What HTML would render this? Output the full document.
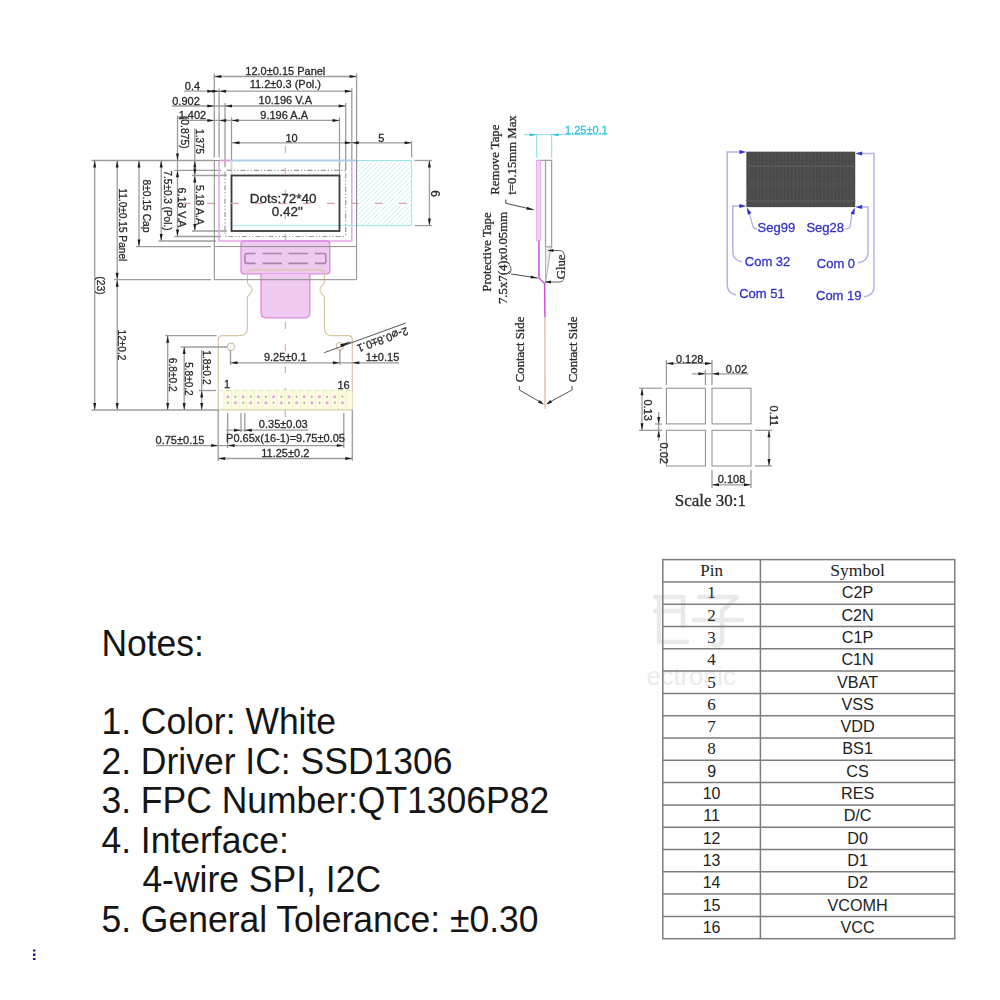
<!DOCTYPE html>
<html><head><meta charset="utf-8">
<style>
html,body{margin:0;padding:0;background:#fff;width:1000px;height:1000px;overflow:hidden}
svg{position:absolute;left:0;top:0}
.ss{font-family:"Liberation Sans",sans-serif;fill:#222}
.sf{font-family:"Liberation Serif",serif;fill:#222}
</style></head><body>
<svg width="1000" height="1000" viewBox="0 0 1000 1000">
<g class="ss" font-size="35.5" style="fill:#151515">
<text x="101.4" y="655.8" transform="matrix(1 0 0 1.045 0 -29.51)">Notes:</text>
<text x="101.4" y="734.3" transform="matrix(1 0 0 1.045 0 -33.04)">1. Color: White</text>
<text x="101.4" y="773.8" transform="matrix(1 0 0 1.045 0 -34.82)">2. Driver IC: SSD1306</text>
<text x="101.4" y="813.3" transform="matrix(1 0 0 1.045 0 -36.60)">3. FPC Number:QT1306P82</text>
<text x="101.4" y="852.8" transform="matrix(1 0 0 1.045 0 -38.38)">4. Interface:</text>
<text x="142.4" y="892.3" transform="matrix(1 0 0 1.045 0 -40.15)">4-wire SPI, I2C</text>
<text x="101.4" y="931.8" transform="matrix(1 0 0 1.045 0 -41.93)">5. General Tolerance: ±0.30</text>
</g>
<g fill="none" stroke="#e9e9e9" stroke-width="4.5" stroke-linecap="round" stroke-linejoin="round"><path d="M655,597 L682,597 M655,611 L682,611 M659,597 L659,642 L687,642 M683,597 L683,626"/><path d="M699,597 L737,597 L722,611 L722,640 Q722,647 713,645 M694,620 L742,620"/></g>
<text x="646.5" y="685" class="ss" font-size="25.5" style="fill:#ebebeb">ectronic</text>
<rect x="662.8" y="559.6" width="292.0" height="379.1" fill="none" stroke="#7c7c7c" stroke-width="1.5"/>
<line x1="760.4" y1="559.6" x2="760.4" y2="938.7" stroke="#7c7c7c" stroke-width="1.5"/>
<line x1="662.8" y1="581.9" x2="954.8" y2="581.9" stroke="#7c7c7c" stroke-width="1.5"/>
<line x1="662.8" y1="604.2" x2="954.8" y2="604.2" stroke="#7c7c7c" stroke-width="1.5"/>
<line x1="662.8" y1="626.5" x2="954.8" y2="626.5" stroke="#7c7c7c" stroke-width="1.5"/>
<line x1="662.8" y1="648.8" x2="954.8" y2="648.8" stroke="#7c7c7c" stroke-width="1.5"/>
<line x1="662.8" y1="671.1" x2="954.8" y2="671.1" stroke="#7c7c7c" stroke-width="1.5"/>
<line x1="662.8" y1="693.4" x2="954.8" y2="693.4" stroke="#7c7c7c" stroke-width="1.5"/>
<line x1="662.8" y1="715.7" x2="954.8" y2="715.7" stroke="#7c7c7c" stroke-width="1.5"/>
<line x1="662.8" y1="738.0" x2="954.8" y2="738.0" stroke="#7c7c7c" stroke-width="1.5"/>
<line x1="662.8" y1="760.3" x2="954.8" y2="760.3" stroke="#7c7c7c" stroke-width="1.5"/>
<line x1="662.8" y1="782.6" x2="954.8" y2="782.6" stroke="#7c7c7c" stroke-width="1.5"/>
<line x1="662.8" y1="804.9" x2="954.8" y2="804.9" stroke="#7c7c7c" stroke-width="1.5"/>
<line x1="662.8" y1="827.2" x2="954.8" y2="827.2" stroke="#7c7c7c" stroke-width="1.5"/>
<line x1="662.8" y1="849.5" x2="954.8" y2="849.5" stroke="#7c7c7c" stroke-width="1.5"/>
<line x1="662.8" y1="871.8" x2="954.8" y2="871.8" stroke="#7c7c7c" stroke-width="1.5"/>
<line x1="662.8" y1="894.1" x2="954.8" y2="894.1" stroke="#7c7c7c" stroke-width="1.5"/>
<line x1="662.8" y1="916.4" x2="954.8" y2="916.4" stroke="#7c7c7c" stroke-width="1.5"/>
<text x="711.6" y="576.2" class="sf" font-size="17" text-anchor="middle">Pin</text>
<text x="857.6" y="576.2" class="sf" font-size="17.6" text-anchor="middle">Symbol</text>
<text x="711.6" y="598.3" class="sf" font-size="17" text-anchor="middle">1</text>
<text x="857.6" y="598.3" class="ss" font-size="16.2" text-anchor="middle">C2P</text>
<text x="711.6" y="620.6" class="sf" font-size="17" text-anchor="middle">2</text>
<text x="857.6" y="620.6" class="ss" font-size="16.2" text-anchor="middle">C2N</text>
<text x="711.6" y="642.9" class="sf" font-size="17" text-anchor="middle">3</text>
<text x="857.6" y="642.9" class="ss" font-size="16.2" text-anchor="middle">C1P</text>
<text x="711.6" y="665.2" class="sf" font-size="17" text-anchor="middle">4</text>
<text x="857.6" y="665.2" class="ss" font-size="16.2" text-anchor="middle">C1N</text>
<text x="711.6" y="687.5" class="sf" font-size="17" text-anchor="middle">5</text>
<text x="857.6" y="687.5" class="ss" font-size="16.2" text-anchor="middle">VBAT</text>
<text x="711.6" y="709.8" class="sf" font-size="17" text-anchor="middle">6</text>
<text x="857.6" y="709.8" class="ss" font-size="16.2" text-anchor="middle">VSS</text>
<text x="711.6" y="732.1" class="sf" font-size="17" text-anchor="middle">7</text>
<text x="857.6" y="732.1" class="ss" font-size="16.2" text-anchor="middle">VDD</text>
<text x="711.6" y="754.4" class="sf" font-size="17" text-anchor="middle">8</text>
<text x="857.6" y="754.4" class="ss" font-size="16.2" text-anchor="middle">BS1</text>
<text x="711.6" y="776.7" class="ss" font-size="16" text-anchor="middle">9</text>
<text x="857.6" y="776.7" class="ss" font-size="16.2" text-anchor="middle">CS</text>
<text x="711.6" y="799.0" class="ss" font-size="16" text-anchor="middle">10</text>
<text x="857.6" y="799.0" class="ss" font-size="16.2" text-anchor="middle">RES</text>
<text x="711.6" y="821.3" class="ss" font-size="16" text-anchor="middle">11</text>
<text x="857.6" y="821.3" class="ss" font-size="16.2" text-anchor="middle">D/C</text>
<text x="711.6" y="843.6" class="ss" font-size="16" text-anchor="middle">12</text>
<text x="857.6" y="843.6" class="ss" font-size="16.2" text-anchor="middle">D0</text>
<text x="711.6" y="865.9" class="ss" font-size="16" text-anchor="middle">13</text>
<text x="857.6" y="865.9" class="ss" font-size="16.2" text-anchor="middle">D1</text>
<text x="711.6" y="888.2" class="ss" font-size="16" text-anchor="middle">14</text>
<text x="857.6" y="888.2" class="ss" font-size="16.2" text-anchor="middle">D2</text>
<text x="711.6" y="910.5" class="ss" font-size="16" text-anchor="middle">15</text>
<text x="857.6" y="910.5" class="ss" font-size="16.2" text-anchor="middle">VCOMH</text>
<text x="711.6" y="932.8" class="ss" font-size="16" text-anchor="middle">16</text>
<text x="857.6" y="932.8" class="ss" font-size="16.2" text-anchor="middle">VCC</text>
<defs><filter id="bl" x="-5%" y="-5%" width="110%" height="110%"><feGaussianBlur stdDeviation="0.35"/></filter></defs>
<g filter="url(#bl)">
<line x1="214.3" y1="73.5" x2="214.3" y2="157.5" stroke="#9c9c9c" stroke-width="1.3" />
<line x1="356.6" y1="73.5" x2="356.6" y2="160.5" stroke="#9c9c9c" stroke-width="1.3" />
<line x1="214.3" y1="76.5" x2="356.6" y2="76.5" stroke="#9c9c9c" stroke-width="1.3" />
<path d="M214.3,76.5 L221.3,75.0 L221.3,78.0Z" fill="#1e1e1e"/>
<path d="M356.6,76.5 L349.6,78.0 L349.6,75.0Z" fill="#1e1e1e"/>
<text x="285.3" y="75.0" class="ss" font-size="11" style="fill:#2a2a2a;stroke:#2a2a2a;stroke-width:0.3" text-anchor="middle" >12.0±0.15 Panel</text>
<line x1="219.1" y1="88.5" x2="219.1" y2="157.5" stroke="#9c9c9c" stroke-width="1.3" />
<line x1="351.8" y1="88.5" x2="351.8" y2="160.5" stroke="#9c9c9c" stroke-width="1.3" />
<line x1="184.0" y1="91.2" x2="351.8" y2="91.2" stroke="#9c9c9c" stroke-width="1.3" />
<path d="M219.1,91.2 L226.1,89.7 L226.1,92.7Z" fill="#1e1e1e"/>
<path d="M219.1,91.2 L212.1,92.7 L212.1,89.7Z" fill="#1e1e1e"/>
<path d="M351.8,91.2 L344.8,92.7 L344.8,89.7Z" fill="#1e1e1e"/>
<path d="M214.3,91.2 L207.3,92.7 L207.3,89.7Z" fill="#1e1e1e"/>
<text x="285.3" y="88.3" class="ss" font-size="11" style="fill:#2a2a2a;stroke:#2a2a2a;stroke-width:0.3" text-anchor="middle" >11.2±0.3 (Pol.)</text>
<text x="192.5" y="90.0" class="ss" font-size="11" style="fill:#2a2a2a;stroke:#2a2a2a;stroke-width:0.3" text-anchor="middle" >0.4</text>
<line x1="225.0" y1="103.0" x2="225.0" y2="167.3" stroke="#9c9c9c" stroke-width="1.3" />
<line x1="345.7" y1="103.0" x2="345.7" y2="170.3" stroke="#9c9c9c" stroke-width="1.3" />
<line x1="172.0" y1="106.0" x2="345.7" y2="106.0" stroke="#9c9c9c" stroke-width="1.3" />
<path d="M214.3,106.0 L207.3,107.5 L207.3,104.5Z" fill="#1e1e1e"/>
<path d="M225.0,106.0 L232.0,104.5 L232.0,107.5Z" fill="#1e1e1e"/>
<path d="M345.7,106.0 L338.7,107.5 L338.7,104.5Z" fill="#1e1e1e"/>
<text x="285.3" y="104.3" class="ss" font-size="11" style="fill:#2a2a2a;stroke:#2a2a2a;stroke-width:0.3" text-anchor="middle" >10.196 V.A</text>
<text x="186.0" y="105.0" class="ss" font-size="11" style="fill:#2a2a2a;stroke:#2a2a2a;stroke-width:0.3" text-anchor="middle" >0.902</text>
<line x1="231.5" y1="117.5" x2="231.5" y2="175.5" stroke="#9c9c9c" stroke-width="1.3" />
<line x1="339.5" y1="117.5" x2="339.5" y2="175.5" stroke="#9c9c9c" stroke-width="1.3" />
<line x1="188.0" y1="120.4" x2="339.5" y2="120.4" stroke="#9c9c9c" stroke-width="1.3" />
<path d="M214.3,120.4 L207.3,121.9 L207.3,118.9Z" fill="#1e1e1e"/>
<path d="M219.1,120.4 L226.1,118.9 L226.1,121.9Z" fill="#1e1e1e"/>
<path d="M231.5,120.4 L238.5,118.9 L238.5,121.9Z" fill="#1e1e1e"/>
<path d="M339.5,120.4 L332.5,121.9 L332.5,118.9Z" fill="#1e1e1e"/>
<text x="284.2" y="119.2" class="ss" font-size="11" style="fill:#2a2a2a;stroke:#2a2a2a;stroke-width:0.3" text-anchor="middle" >9.196 A.A</text>
<text x="192.4" y="119.3" class="ss" font-size="11" style="fill:#2a2a2a;stroke:#2a2a2a;stroke-width:0.3" text-anchor="middle" >1.402</text>
<line x1="231.5" y1="142.8" x2="411.6" y2="142.8" stroke="#9c9c9c" stroke-width="1.3" />
<path d="M232.5,142.8 L239.5,141.3 L239.5,144.3Z" fill="#1e1e1e"/>
<path d="M351.8,142.8 L344.8,144.3 L344.8,141.3Z" fill="#1e1e1e"/>
<path d="M351.8,142.8 L358.8,141.3 L358.8,144.3Z" fill="#1e1e1e"/>
<path d="M411.6,142.8 L404.6,144.3 L404.6,141.3Z" fill="#1e1e1e"/>
<text x="291.5" y="141.5" class="ss" font-size="11" style="fill:#2a2a2a;stroke:#2a2a2a;stroke-width:0.3" text-anchor="middle" >10</text>
<text x="381.3" y="141.5" class="ss" font-size="11" style="fill:#2a2a2a;stroke:#2a2a2a;stroke-width:0.3" text-anchor="middle" >5</text>
<line x1="411.6" y1="141.0" x2="411.6" y2="157.5" stroke="#9c9c9c" stroke-width="1.3" />
<line x1="91.5" y1="160.5" x2="214.3" y2="160.5" stroke="#9c9c9c" stroke-width="1.3" />
<line x1="94.7" y1="160.5" x2="94.7" y2="410.0" stroke="#9c9c9c" stroke-width="1.3" />
<path d="M94.7,160.5 L96.2,167.5 L93.2,167.5Z" fill="#1e1e1e"/>
<path d="M94.7,410.0 L93.2,403.0 L96.2,403.0Z" fill="#1e1e1e"/>
<text x="97.2" y="276.3" class="ss" font-size="11.5" style="fill:#2a2a2a;stroke:#2a2a2a;stroke-width:0.3" text-anchor="start" transform="rotate(90 97.2 276.3)"  textLength="18.5" lengthAdjust="spacingAndGlyphs">(23)</text>
<line x1="117.2" y1="160.5" x2="117.2" y2="410.0" stroke="#9c9c9c" stroke-width="1.3" />
<path d="M117.2,160.5 L118.7,167.5 L115.7,167.5Z" fill="#1e1e1e"/>
<path d="M117.2,279.7 L115.7,272.7 L118.7,272.7Z" fill="#1e1e1e"/>
<path d="M117.2,279.7 L118.7,286.7 L115.7,286.7Z" fill="#1e1e1e"/>
<path d="M117.2,410.0 L115.7,403.0 L118.7,403.0Z" fill="#1e1e1e"/>
<text x="119.0" y="188.3" class="ss" font-size="11.5" style="fill:#2a2a2a;stroke:#2a2a2a;stroke-width:0.3" text-anchor="start" transform="rotate(90 119.0 188.3)"  textLength="73" lengthAdjust="spacingAndGlyphs">11.0±0.15 Panel</text>
<text x="118.3" y="329.5" class="ss" font-size="11.5" style="fill:#2a2a2a;stroke:#2a2a2a;stroke-width:0.3" text-anchor="start" transform="rotate(90 118.3 329.5)"  textLength="31" lengthAdjust="spacingAndGlyphs">12±0.2</text>
<line x1="114.0" y1="279.7" x2="211.0" y2="279.7" stroke="#9c9c9c" stroke-width="1.3" />
<line x1="139.0" y1="160.5" x2="139.0" y2="246.6" stroke="#9c9c9c" stroke-width="1.3" />
<path d="M139.0,160.5 L140.5,167.5 L137.5,167.5Z" fill="#1e1e1e"/>
<path d="M139.0,246.6 L137.5,239.6 L140.5,239.6Z" fill="#1e1e1e"/>
<line x1="136.0" y1="246.6" x2="211.0" y2="246.6" stroke="#9c9c9c" stroke-width="1.3" />
<text x="143.0" y="179.5" class="ss" font-size="11.5" style="fill:#2a2a2a;stroke:#2a2a2a;stroke-width:0.3" text-anchor="start" transform="rotate(90 143.0 179.5)"  textLength="53" lengthAdjust="spacingAndGlyphs">8±0.15 Cap</text>
<line x1="161.2" y1="160.5" x2="161.2" y2="241.0" stroke="#9c9c9c" stroke-width="1.3" />
<path d="M161.2,160.5 L162.7,167.5 L159.7,167.5Z" fill="#1e1e1e"/>
<path d="M161.2,241.0 L159.7,234.0 L162.7,234.0Z" fill="#1e1e1e"/>
<line x1="158.5" y1="241.0" x2="216.0" y2="241.0" stroke="#9c9c9c" stroke-width="1.3" />
<text x="164.0" y="170.5" class="ss" font-size="11.5" style="fill:#2a2a2a;stroke:#2a2a2a;stroke-width:0.3" text-anchor="start" transform="rotate(90 164.0 170.5)"  textLength="60" lengthAdjust="spacingAndGlyphs">7.5±0.3 (Pol.)</text>
<line x1="177.5" y1="115.6" x2="177.5" y2="236.5" stroke="#9c9c9c" stroke-width="1.3" />
<line x1="177.0" y1="117.0" x2="186.0" y2="117.0" stroke="#9c9c9c" stroke-width="1.3" />
<path d="M177.5,160.5 L176.0,153.5 L179.0,153.5Z" fill="#1e1e1e"/>
<path d="M177.5,170.3 L179.0,177.3 L176.0,177.3Z" fill="#1e1e1e"/>
<path d="M177.5,236.5 L176.0,229.5 L179.0,229.5Z" fill="#1e1e1e"/>
<line x1="174.5" y1="170.3" x2="221.0" y2="170.3" stroke="#9c9c9c" stroke-width="1.3" />
<line x1="174.5" y1="236.5" x2="221.0" y2="236.5" stroke="#9c9c9c" stroke-width="1.3" />
<text x="180.5" y="115.8" class="ss" font-size="11.5" style="fill:#2a2a2a;stroke:#2a2a2a;stroke-width:0.3" text-anchor="start" transform="rotate(90 180.5 115.8)"  textLength="33" lengthAdjust="spacingAndGlyphs">(0.875)</text>
<text x="178.3" y="187.5" class="ss" font-size="11.5" style="fill:#2a2a2a;stroke:#2a2a2a;stroke-width:0.3" text-anchor="start" transform="rotate(90 178.3 187.5)"  textLength="40" lengthAdjust="spacingAndGlyphs">6.18 V.A</text>
<line x1="194.8" y1="128.2" x2="194.8" y2="231.0" stroke="#9c9c9c" stroke-width="1.3" />
<path d="M194.8,160.5 L196.3,167.5 L193.3,167.5Z" fill="#1e1e1e"/>
<path d="M194.8,175.5 L193.3,168.5 L196.3,168.5Z" fill="#1e1e1e"/>
<path d="M194.8,175.5 L196.3,182.5 L193.3,182.5Z" fill="#1e1e1e"/>
<path d="M194.8,231.0 L193.3,224.0 L196.3,224.0Z" fill="#1e1e1e"/>
<line x1="192.0" y1="175.5" x2="227.0" y2="175.5" stroke="#9c9c9c" stroke-width="1.3" />
<line x1="192.0" y1="231.0" x2="227.0" y2="231.0" stroke="#9c9c9c" stroke-width="1.3" />
<text x="196.3" y="129.1" class="ss" font-size="11.5" style="fill:#2a2a2a;stroke:#2a2a2a;stroke-width:0.3" text-anchor="start" transform="rotate(90 196.3 129.1)"  textLength="25" lengthAdjust="spacingAndGlyphs">1.375</text>
<text x="195.9" y="185.1" class="ss" font-size="11.5" style="fill:#2a2a2a;stroke:#2a2a2a;stroke-width:0.3" text-anchor="start" transform="rotate(90 195.9 185.1)"  textLength="40" lengthAdjust="spacingAndGlyphs">5.18 A.A</text>
<defs><pattern id="hat" patternUnits="userSpaceOnUse" width="3.4" height="3.4" patternTransform="rotate(45)"><line x1="0" y1="0" x2="0" y2="3.4" stroke="#b4eaf2" stroke-width="1.1"/></pattern></defs>
<rect x="356.6" y="160.5" width="55.0" height="65.1" rx="0" stroke="#9fe3ee" stroke-width="1" fill="url(#hat)" />
<line x1="414.6" y1="160.5" x2="432.0" y2="160.5" stroke="#9c9c9c" stroke-width="1.3" />
<line x1="414.6" y1="225.6" x2="432.0" y2="225.6" stroke="#9c9c9c" stroke-width="1.3" />
<line x1="429.4" y1="160.5" x2="429.4" y2="225.6" stroke="#9c9c9c" stroke-width="1.3" />
<path d="M429.4,160.5 L430.9,167.5 L427.9,167.5Z" fill="#1e1e1e"/>
<path d="M429.4,225.6 L427.9,218.6 L430.9,218.6Z" fill="#1e1e1e"/>
<text x="431.2" y="190.2" class="ss" font-size="12" style="fill:#2a2a2a;stroke:#2a2a2a;stroke-width:0.3" text-anchor="start" transform="rotate(90 431.2 190.2)" >6</text>
<path d="M219.1,160.5 L219.1,241.0 L351.8,241.0 L351.8,160.5" stroke="#e4a6e8" stroke-width="1.5" fill="none" />
<line x1="219.1" y1="160.5" x2="231.5" y2="160.5" stroke="#d8a0dc" stroke-width="1.8" />
<line x1="231.5" y1="160.5" x2="357.2" y2="160.5" stroke="#aecde6" stroke-width="1.8" />
<line x1="231.5" y1="225.6" x2="356.6" y2="225.6" stroke="#b0ecf2" stroke-width="1.2" />
<line x1="231.5" y1="160.5" x2="231.5" y2="175.5" stroke="#b0ecf2" stroke-width="1.2" />
<rect x="225.0" y="170.3" width="120.7" height="66.2" rx="2" stroke="#9a9a9a" stroke-width="1.2" fill="none" stroke-dasharray="5 2 1.2 2 1.2 2"/>
<rect x="231.5" y="175.5" width="108.0" height="55.5" rx="0" stroke="#3a3a3a" stroke-width="1.8" fill="none" />
<line x1="183.0" y1="203.4" x2="420.0" y2="203.4" stroke="#e2a0a8" stroke-width="1.1" stroke-dasharray="7.5 16.5"/>
<line x1="285.3" y1="146.0" x2="285.3" y2="425.0" stroke="#e2a0a8" stroke-width="1.1" stroke-dasharray="7 15"/>
<text x="283.2" y="202.5" class="ss" font-size="13.5" style="fill:#2a2a2a;stroke:#2a2a2a;stroke-width:0.3" text-anchor="middle" >Dots:72*40</text>
<text x="287.2" y="215.5" class="ss" font-size="13.5" style="fill:#2a2a2a;stroke:#2a2a2a;stroke-width:0.3" text-anchor="middle" >0.42"</text>
<rect x="241.0" y="241.0" width="88.8" height="32.8" rx="3" stroke="#dc8ade" stroke-width="1.3" fill="#efc9f0" />
<path d="M255.5,253.5 L247,253.5 Q245,253.5 245,255.5 L245,261.4 Q245,263.4 247,263.4 L255.5,263.4 M262.5,253.5 L282,253.5 M288.5,253.5 L308,253.5 M315,253.5 L323.8,253.5 Q325.8,253.5 325.8,255.5 L325.8,261.4 Q325.8,263.4 323.8,263.4 L315,263.4 M262.5,263.4 L282,263.4 M288.5,263.4 L308,263.4" stroke="#a884b0" stroke-width="1.6" fill="none" />
<path d="M218.2,410 L218.2,340 Q218.2,335.7 222.5,335.7 L240,335.7 Q247.4,335.7 247.4,328 L247.4,298 Q247.4,296 249,295 Q252,292 252,290 Q252,287 249,285 Q247.4,284 247.4,282 L247.4,274 Q247.4,269.8 251.5,269.8 L320,269.8 Q324.4,269.8 324.4,274 L324.4,282 Q324.4,284 322.8,285 Q320,287 320,290 Q320,292 322.8,295 Q324.4,296 324.4,298 L324.4,328 Q324.4,335.7 332,335.7 L348,335.7 Q352.3,335.7 352.3,340 L352.3,410" stroke="#d6c6a6" stroke-width="1.2" fill="none" />
<path d="M261,273.8 L261,313 Q261,317.8 266,317.8 L305,317.8 Q309.8,317.8 309.8,313 L309.8,273.8" stroke="#dc8ade" stroke-width="1.3" fill="#efc9f0" />
<path d="M219.1,160.5 L214.3,160.5 L214.3,279.7 L356.6,279.7 L356.6,160.0" stroke="#8a8a8a" stroke-width="1.0" fill="none" />
<line x1="214.3" y1="246.6" x2="356.6" y2="246.6" stroke="#8e8e8e" stroke-width="1.0" />
<rect x="223.8" y="390.4" width="128.5" height="19.2" rx="0" stroke="none" stroke-width="0" fill="#fbfbe2" />
<line x1="223.8" y1="391.0" x2="223.8" y2="409.0" stroke="#f2f2c0" stroke-width="0.8" />
<line x1="231.4" y1="391.0" x2="231.4" y2="409.0" stroke="#f2f2c0" stroke-width="0.8" />
<line x1="239.1" y1="391.0" x2="239.1" y2="409.0" stroke="#f2f2c0" stroke-width="0.8" />
<line x1="246.7" y1="391.0" x2="246.7" y2="409.0" stroke="#f2f2c0" stroke-width="0.8" />
<line x1="254.4" y1="391.0" x2="254.4" y2="409.0" stroke="#f2f2c0" stroke-width="0.8" />
<line x1="262.0" y1="391.0" x2="262.0" y2="409.0" stroke="#f2f2c0" stroke-width="0.8" />
<line x1="269.6" y1="391.0" x2="269.6" y2="409.0" stroke="#f2f2c0" stroke-width="0.8" />
<line x1="277.3" y1="391.0" x2="277.3" y2="409.0" stroke="#f2f2c0" stroke-width="0.8" />
<line x1="284.9" y1="391.0" x2="284.9" y2="409.0" stroke="#f2f2c0" stroke-width="0.8" />
<line x1="292.6" y1="391.0" x2="292.6" y2="409.0" stroke="#f2f2c0" stroke-width="0.8" />
<line x1="300.2" y1="391.0" x2="300.2" y2="409.0" stroke="#f2f2c0" stroke-width="0.8" />
<line x1="307.8" y1="391.0" x2="307.8" y2="409.0" stroke="#f2f2c0" stroke-width="0.8" />
<line x1="315.5" y1="391.0" x2="315.5" y2="409.0" stroke="#f2f2c0" stroke-width="0.8" />
<line x1="323.1" y1="391.0" x2="323.1" y2="409.0" stroke="#f2f2c0" stroke-width="0.8" />
<line x1="330.8" y1="391.0" x2="330.8" y2="409.0" stroke="#f2f2c0" stroke-width="0.8" />
<line x1="338.4" y1="391.0" x2="338.4" y2="409.0" stroke="#f2f2c0" stroke-width="0.8" />
<line x1="346.0" y1="391.0" x2="346.0" y2="409.0" stroke="#f2f2c0" stroke-width="0.8" />
<line x1="218.2" y1="390.4" x2="352.3" y2="390.4" stroke="#e2e2b8" stroke-width="1.0" stroke-dasharray="5 3"/>
<line x1="218.2" y1="409.8" x2="352.3" y2="409.8" stroke="#dcdcb0" stroke-width="1.6" />
<circle cx="227.8" cy="396.8" r="1.5" fill="#e2a6ea"/>
<circle cx="227.8" cy="402.8" r="1" fill="#a8a8a8"/>
<circle cx="235.4" cy="396.8" r="1" fill="#a8a8a8"/>
<circle cx="235.4" cy="402.8" r="1.5" fill="#e2a6ea"/>
<circle cx="243.1" cy="396.8" r="1.5" fill="#e2a6ea"/>
<circle cx="243.1" cy="402.8" r="1" fill="#a8a8a8"/>
<circle cx="250.7" cy="396.8" r="1" fill="#a8a8a8"/>
<circle cx="250.7" cy="402.8" r="1.5" fill="#e2a6ea"/>
<circle cx="258.4" cy="396.8" r="1.5" fill="#e2a6ea"/>
<circle cx="258.4" cy="402.8" r="1" fill="#a8a8a8"/>
<circle cx="266.0" cy="396.8" r="1" fill="#a8a8a8"/>
<circle cx="266.0" cy="402.8" r="1.5" fill="#e2a6ea"/>
<circle cx="273.6" cy="396.8" r="1.5" fill="#e2a6ea"/>
<circle cx="273.6" cy="402.8" r="1" fill="#a8a8a8"/>
<circle cx="281.3" cy="396.8" r="1" fill="#a8a8a8"/>
<circle cx="281.3" cy="402.8" r="1.5" fill="#e2a6ea"/>
<circle cx="288.9" cy="396.8" r="1.5" fill="#e2a6ea"/>
<circle cx="288.9" cy="402.8" r="1" fill="#a8a8a8"/>
<circle cx="296.6" cy="396.8" r="1" fill="#a8a8a8"/>
<circle cx="296.6" cy="402.8" r="1.5" fill="#e2a6ea"/>
<circle cx="304.2" cy="396.8" r="1.5" fill="#e2a6ea"/>
<circle cx="304.2" cy="402.8" r="1" fill="#a8a8a8"/>
<circle cx="311.8" cy="396.8" r="1" fill="#a8a8a8"/>
<circle cx="311.8" cy="402.8" r="1.5" fill="#e2a6ea"/>
<circle cx="319.5" cy="396.8" r="1.5" fill="#e2a6ea"/>
<circle cx="319.5" cy="402.8" r="1" fill="#a8a8a8"/>
<circle cx="327.1" cy="396.8" r="1" fill="#a8a8a8"/>
<circle cx="327.1" cy="402.8" r="1.5" fill="#e2a6ea"/>
<circle cx="334.8" cy="396.8" r="1.5" fill="#e2a6ea"/>
<circle cx="334.8" cy="402.8" r="1" fill="#a8a8a8"/>
<circle cx="342.4" cy="396.8" r="1" fill="#a8a8a8"/>
<circle cx="342.4" cy="402.8" r="1.5" fill="#e2a6ea"/>
<text x="227.0" y="388.0" class="ss" font-size="11" style="fill:#2a2a2a;stroke:#2a2a2a;stroke-width:0.3" text-anchor="middle" >1</text>
<text x="343.5" y="389.3" class="ss" font-size="11" style="fill:#2a2a2a;stroke:#2a2a2a;stroke-width:0.3" text-anchor="middle" >16</text>
<line x1="91.5" y1="410.0" x2="218.2" y2="410.0" stroke="#9c9c9c" stroke-width="1.3" />
<circle cx="231" cy="346.7" r="3.6" fill="none" stroke="#d2c2a2" stroke-width="1.2"/>
<circle cx="339.9" cy="346.2" r="3.6" fill="none" stroke="#d2c2a2" stroke-width="1.2"/>
<line x1="165.0" y1="335.7" x2="216.7" y2="335.7" stroke="#9c9c9c" stroke-width="1.3" />
<line x1="167.7" y1="335.7" x2="167.7" y2="410.0" stroke="#9c9c9c" stroke-width="1.3" />
<path d="M167.7,335.7 L169.2,342.7 L166.2,342.7Z" fill="#1e1e1e"/>
<path d="M167.7,410.0 L166.2,403.0 L169.2,403.0Z" fill="#1e1e1e"/>
<text x="168.8" y="357.7" class="ss" font-size="11.5" style="fill:#2a2a2a;stroke:#2a2a2a;stroke-width:0.3" text-anchor="start" transform="rotate(90 168.8 357.7)"  textLength="34" lengthAdjust="spacingAndGlyphs">6.8±0.2</text>
<line x1="180.7" y1="347.0" x2="227.0" y2="347.0" stroke="#9c9c9c" stroke-width="1.3" />
<line x1="184.2" y1="347.0" x2="184.2" y2="410.0" stroke="#9c9c9c" stroke-width="1.3" />
<path d="M184.2,347.0 L185.7,354.0 L182.7,354.0Z" fill="#1e1e1e"/>
<path d="M184.2,410.0 L182.7,403.0 L185.7,403.0Z" fill="#1e1e1e"/>
<text x="185.3" y="362.2" class="ss" font-size="11.5" style="fill:#2a2a2a;stroke:#2a2a2a;stroke-width:0.3" text-anchor="start" transform="rotate(90 185.3 362.2)"  textLength="33.5" lengthAdjust="spacingAndGlyphs">5.8±0.2</text>
<line x1="198.7" y1="390.5" x2="216.0" y2="390.5" stroke="#9c9c9c" stroke-width="1.3" />
<line x1="201.7" y1="350.0" x2="201.7" y2="410.0" stroke="#9c9c9c" stroke-width="1.3" />
<path d="M201.7,390.5 L203.2,397.5 L200.2,397.5Z" fill="#1e1e1e"/>
<path d="M201.7,410.0 L200.2,403.0 L203.2,403.0Z" fill="#1e1e1e"/>
<text x="202.5" y="350.2" class="ss" font-size="11.5" style="fill:#2a2a2a;stroke:#2a2a2a;stroke-width:0.3" text-anchor="start" transform="rotate(90 202.5 350.2)"  textLength="34.5" lengthAdjust="spacingAndGlyphs">1.8±0.2</text>
<line x1="230.5" y1="350.0" x2="230.5" y2="365.0" stroke="#9c9c9c" stroke-width="1.3" />
<line x1="339.9" y1="350.0" x2="339.9" y2="365.0" stroke="#9c9c9c" stroke-width="1.3" />
<line x1="230.5" y1="362.8" x2="399.0" y2="362.8" stroke="#9c9c9c" stroke-width="1.3" />
<path d="M230.5,362.8 L237.5,361.3 L237.5,364.3Z" fill="#1e1e1e"/>
<path d="M339.9,362.8 L332.9,364.3 L332.9,361.3Z" fill="#1e1e1e"/>
<path d="M352.3,362.8 L359.3,361.3 L359.3,364.3Z" fill="#1e1e1e"/>
<text x="285.3" y="361.0" class="ss" font-size="11" style="fill:#2a2a2a;stroke:#2a2a2a;stroke-width:0.3" text-anchor="middle" >9.25±0.1</text>
<text x="382.5" y="361.2" class="ss" font-size="11" style="fill:#2a2a2a;stroke:#2a2a2a;stroke-width:0.3" text-anchor="middle" >1±0.15</text>
<line x1="324.2" y1="352.7" x2="405.8" y2="323.0" stroke="#444" stroke-width="0.9" />
<path d="M352.0,341.6 L341.3,347.2 L340.2,344.2Z" fill="#1e1e1e"/>
<text x="406.5" y="327.0" class="ss" font-size="11" style="fill:#2a2a2a;stroke:#2a2a2a;stroke-width:0.3" text-anchor="start" transform="rotate(160 406.5 327.0)" >2-⌀0.8±0.1</text>
<line x1="227.7" y1="413.0" x2="227.7" y2="448.0" stroke="#9c9c9c" stroke-width="1.3" />
<line x1="241.0" y1="413.0" x2="241.0" y2="432.0" stroke="#9c9c9c" stroke-width="1.3" />
<line x1="244.8" y1="413.0" x2="244.8" y2="432.0" stroke="#9c9c9c" stroke-width="1.3" />
<line x1="343.8" y1="413.0" x2="343.8" y2="448.0" stroke="#9c9c9c" stroke-width="1.3" />
<line x1="218.2" y1="410.0" x2="218.2" y2="461.0" stroke="#9c9c9c" stroke-width="1.3" />
<line x1="352.3" y1="410.0" x2="352.3" y2="461.0" stroke="#9c9c9c" stroke-width="1.3" />
<line x1="226.0" y1="430.2" x2="308.0" y2="430.2" stroke="#9c9c9c" stroke-width="1.3" />
<path d="M241.0,430.2 L234.0,431.7 L234.0,428.7Z" fill="#1e1e1e"/>
<path d="M244.8,430.2 L251.8,428.7 L251.8,431.7Z" fill="#1e1e1e"/>
<text x="283.3" y="427.5" class="ss" font-size="11" style="fill:#2a2a2a;stroke:#2a2a2a;stroke-width:0.3" text-anchor="middle" >0.35±0.03</text>
<line x1="156.0" y1="445.6" x2="343.8" y2="445.6" stroke="#9c9c9c" stroke-width="1.3" />
<path d="M218.2,445.6 L211.2,447.1 L211.2,444.1Z" fill="#1e1e1e"/>
<path d="M227.7,445.6 L234.7,444.1 L234.7,447.1Z" fill="#1e1e1e"/>
<path d="M343.8,445.6 L336.8,447.1 L336.8,444.1Z" fill="#1e1e1e"/>
<text x="180.0" y="444.4" class="ss" font-size="11" style="fill:#2a2a2a;stroke:#2a2a2a;stroke-width:0.3" text-anchor="middle" >0.75±0.15</text>
<text x="285.5" y="442.2" class="ss" font-size="11" style="fill:#2a2a2a;stroke:#2a2a2a;stroke-width:0.3" text-anchor="middle" >P0.65x(16-1)=9.75±0.05</text>
<line x1="218.2" y1="458.5" x2="352.3" y2="458.5" stroke="#9c9c9c" stroke-width="1.3" />
<path d="M218.2,458.5 L225.2,457.0 L225.2,460.0Z" fill="#1e1e1e"/>
<path d="M352.3,458.5 L345.3,460.0 L345.3,457.0Z" fill="#1e1e1e"/>
<text x="285.3" y="456.5" class="ss" font-size="11" style="fill:#2a2a2a;stroke:#2a2a2a;stroke-width:0.3" text-anchor="middle" >11.25±0.2</text>
<line x1="524.0" y1="134.7" x2="606.4" y2="134.7" stroke="#86dcec" stroke-width="1.0" />
<line x1="536.7" y1="134.0" x2="536.7" y2="158.0" stroke="#86dcec" stroke-width="1.0" />
<line x1="551.7" y1="134.0" x2="551.7" y2="158.0" stroke="#86dcec" stroke-width="1.0" />
<path d="M536.7,134.7 L529.7,136.2 L529.7,133.2Z" fill="#30c0dc"/>
<path d="M551.7,134.7 L558.7,133.2 L558.7,136.2Z" fill="#30c0dc"/>
<text x="565.0" y="134.0" class="ss" font-size="11" style="fill:#30c0dc;stroke:#30c0dc;stroke-width:0.3" text-anchor="start" >1.25±0.1</text>
<path d="M536.7,160.4 L551.6,160.4 L551.6,247 L545.5,247 M545.5,160.4 L545.5,247" stroke="#a0a0a0" stroke-width="1.3" fill="none" />
<rect x="536.6" y="160.4" width="4.0" height="80.4" rx="0" stroke="#e6aaea" stroke-width="0.9" fill="#f2d2f4" />
<path d="M538.9,240.5 L538.9,278 L544.6,283.5 L544.9,317.4" stroke="#d050d8" stroke-width="1.5" fill="none" />
<line x1="544.9" y1="317.4" x2="545.0" y2="409.0" stroke="#d8c4a4" stroke-width="1.4" />
<path d="M545.5,247 L551,247 L545.5,283 Z" stroke="#b0b0b0" stroke-width="1.0" fill="#ececec" />
<path d="M505.8,199.5 L505.8,203.3 L533.7,209.8" stroke="#333" stroke-width="0.9" fill="none" />
<path d="M533.7,209.8 L526.5,209.7 L527.2,206.8Z" fill="#1e1e1e"/>
<path d="M511,274 L537.6,278" stroke="#333" stroke-width="0.9" fill="none" />
<path d="M537.6,278.0 L530.5,278.5 L530.9,275.5Z" fill="#1e1e1e"/>
<path d="M548,250.5 L559,250.5 Q564,250.5 564,255" stroke="#555" stroke-width="0.9" fill="none" />
<path d="M564,277 Q564,282 559,282 L545,282" stroke="#555" stroke-width="0.9" fill="none" />
<path d="M547.5,250.5 L553.5,249.0 L553.5,252.0Z" fill="#1e1e1e"/>
<path d="M545.0,282.0 L551.0,280.5 L551.0,283.5Z" fill="#1e1e1e"/>
<text x="499.5" y="194.7" class="sf" font-size="12.75" style="fill:#2a2a2a;stroke:#2a2a2a;stroke-width:0.3" text-anchor="start" transform="rotate(-90 499.5 194.7)" >Remove Tape</text>
<text x="516.2" y="194.7" class="sf" font-size="12.75" style="fill:#2a2a2a;stroke:#2a2a2a;stroke-width:0.3" text-anchor="start" transform="rotate(-90 516.2 194.7)" >t=0.15mm Max</text>
<text x="490.8" y="291.7" class="sf" font-size="12.75" style="fill:#2a2a2a;stroke:#2a2a2a;stroke-width:0.3" text-anchor="start" transform="rotate(-90 490.8 291.7)" >Protective Tape</text>
<text x="506.8" y="304.0" class="sf" font-size="12.75" style="fill:#2a2a2a;stroke:#2a2a2a;stroke-width:0.3" text-anchor="start" transform="rotate(-90 506.8 304.0)" >7.5x7(4)x0.05mm</text>
<path d="M509,265 Q511,266 511,269.5 Q511,273 509,274" stroke="#444" stroke-width="0.9" fill="none" />
<text x="565.5" y="279.3" class="sf" font-size="12.75" style="fill:#2a2a2a;stroke:#2a2a2a;stroke-width:0.3" text-anchor="start" transform="rotate(-90 565.5 279.3)" >Glue</text>
<text x="524.4" y="382.2" class="sf" font-size="12.75" style="fill:#2a2a2a;stroke:#2a2a2a;stroke-width:0.3" text-anchor="start" transform="rotate(-90 524.4 382.2)" >Contact Side</text>
<text x="576.6" y="382.2" class="sf" font-size="12.75" style="fill:#2a2a2a;stroke:#2a2a2a;stroke-width:0.3" text-anchor="start" transform="rotate(-90 576.6 382.2)" >Contact Side</text>
<path d="M519.4,386 L519.4,390 L542,403" stroke="#444" stroke-width="0.9" fill="none" />
<path d="M544.0,404.5 L538.0,402.8 L539.7,400.0Z" fill="#1e1e1e"/>
<path d="M572,386 L572,390 L548,403" stroke="#444" stroke-width="0.9" fill="none" />
<path d="M546.0,404.5 L550.3,400.0 L552.0,402.8Z" fill="#1e1e1e"/>
<rect x="746.4" y="151.7" width="108.8" height="55.4" rx="0" stroke="none" stroke-width="0" fill="#4a4a4a" />
<line x1="750.0" y1="151.7" x2="750.0" y2="207.1" stroke="#575757" stroke-width="0.9" />
<line x1="753.7" y1="151.7" x2="753.7" y2="207.1" stroke="#575757" stroke-width="0.9" />
<line x1="757.3" y1="151.7" x2="757.3" y2="207.1" stroke="#575757" stroke-width="0.9" />
<line x1="760.9" y1="151.7" x2="760.9" y2="207.1" stroke="#575757" stroke-width="0.9" />
<line x1="764.5" y1="151.7" x2="764.5" y2="207.1" stroke="#575757" stroke-width="0.9" />
<line x1="768.2" y1="151.7" x2="768.2" y2="207.1" stroke="#575757" stroke-width="0.9" />
<line x1="771.8" y1="151.7" x2="771.8" y2="207.1" stroke="#575757" stroke-width="0.9" />
<line x1="775.4" y1="151.7" x2="775.4" y2="207.1" stroke="#575757" stroke-width="0.9" />
<line x1="779.0" y1="151.7" x2="779.0" y2="207.1" stroke="#575757" stroke-width="0.9" />
<line x1="782.7" y1="151.7" x2="782.7" y2="207.1" stroke="#575757" stroke-width="0.9" />
<line x1="786.3" y1="151.7" x2="786.3" y2="207.1" stroke="#575757" stroke-width="0.9" />
<line x1="789.9" y1="151.7" x2="789.9" y2="207.1" stroke="#575757" stroke-width="0.9" />
<line x1="793.5" y1="151.7" x2="793.5" y2="207.1" stroke="#575757" stroke-width="0.9" />
<line x1="797.2" y1="151.7" x2="797.2" y2="207.1" stroke="#575757" stroke-width="0.9" />
<line x1="800.8" y1="151.7" x2="800.8" y2="207.1" stroke="#575757" stroke-width="0.9" />
<line x1="804.4" y1="151.7" x2="804.4" y2="207.1" stroke="#575757" stroke-width="0.9" />
<line x1="808.1" y1="151.7" x2="808.1" y2="207.1" stroke="#575757" stroke-width="0.9" />
<line x1="811.7" y1="151.7" x2="811.7" y2="207.1" stroke="#575757" stroke-width="0.9" />
<line x1="815.3" y1="151.7" x2="815.3" y2="207.1" stroke="#575757" stroke-width="0.9" />
<line x1="818.9" y1="151.7" x2="818.9" y2="207.1" stroke="#575757" stroke-width="0.9" />
<line x1="822.6" y1="151.7" x2="822.6" y2="207.1" stroke="#575757" stroke-width="0.9" />
<line x1="826.2" y1="151.7" x2="826.2" y2="207.1" stroke="#575757" stroke-width="0.9" />
<line x1="829.8" y1="151.7" x2="829.8" y2="207.1" stroke="#575757" stroke-width="0.9" />
<line x1="833.4" y1="151.7" x2="833.4" y2="207.1" stroke="#575757" stroke-width="0.9" />
<line x1="837.1" y1="151.7" x2="837.1" y2="207.1" stroke="#575757" stroke-width="0.9" />
<line x1="840.7" y1="151.7" x2="840.7" y2="207.1" stroke="#575757" stroke-width="0.9" />
<line x1="844.3" y1="151.7" x2="844.3" y2="207.1" stroke="#575757" stroke-width="0.9" />
<line x1="847.9" y1="151.7" x2="847.9" y2="207.1" stroke="#575757" stroke-width="0.9" />
<line x1="851.6" y1="151.7" x2="851.6" y2="207.1" stroke="#575757" stroke-width="0.9" />
<line x1="746.4" y1="155.2" x2="855.2" y2="155.2" stroke="#4f4f4f" stroke-width="0.8" />
<line x1="746.4" y1="158.6" x2="855.2" y2="158.6" stroke="#4f4f4f" stroke-width="0.8" />
<line x1="746.4" y1="162.1" x2="855.2" y2="162.1" stroke="#4f4f4f" stroke-width="0.8" />
<line x1="746.4" y1="165.5" x2="855.2" y2="165.5" stroke="#4f4f4f" stroke-width="0.8" />
<line x1="746.4" y1="169.0" x2="855.2" y2="169.0" stroke="#4f4f4f" stroke-width="0.8" />
<line x1="746.4" y1="172.5" x2="855.2" y2="172.5" stroke="#4f4f4f" stroke-width="0.8" />
<line x1="746.4" y1="175.9" x2="855.2" y2="175.9" stroke="#4f4f4f" stroke-width="0.8" />
<line x1="746.4" y1="179.4" x2="855.2" y2="179.4" stroke="#4f4f4f" stroke-width="0.8" />
<line x1="746.4" y1="182.9" x2="855.2" y2="182.9" stroke="#4f4f4f" stroke-width="0.8" />
<line x1="746.4" y1="186.3" x2="855.2" y2="186.3" stroke="#4f4f4f" stroke-width="0.8" />
<line x1="746.4" y1="189.8" x2="855.2" y2="189.8" stroke="#4f4f4f" stroke-width="0.8" />
<line x1="746.4" y1="193.2" x2="855.2" y2="193.2" stroke="#4f4f4f" stroke-width="0.8" />
<line x1="746.4" y1="196.7" x2="855.2" y2="196.7" stroke="#4f4f4f" stroke-width="0.8" />
<line x1="746.4" y1="200.2" x2="855.2" y2="200.2" stroke="#4f4f4f" stroke-width="0.8" />
<line x1="746.4" y1="203.6" x2="855.2" y2="203.6" stroke="#4f4f4f" stroke-width="0.8" />
<line x1="746.4" y1="166.2" x2="855.2" y2="166.2" stroke="#5c5c5c" stroke-width="1.5" />
<line x1="746.4" y1="184.0" x2="855.2" y2="184.0" stroke="#545454" stroke-width="1.2" />
<line x1="746.4" y1="201.0" x2="855.2" y2="201.0" stroke="#5a5a5a" stroke-width="1.5" />
<path d="M740,152 L727.2,152 L727.2,285 Q727.2,293 736,295" stroke="#b4b4e4" stroke-width="1.5" fill="none" />
<path d="M746.4,152.0 L739.4,154.0 L739.4,150.0Z" fill="#3232c8"/>
<path d="M740,206 L732.8,206 L732.8,252 Q732.8,260 742,262" stroke="#b4b4e4" stroke-width="1.5" fill="none" />
<path d="M746.4,206.0 L739.4,208.0 L739.4,204.0Z" fill="#3232c8"/>
<path d="M749,212 L752.8,226 Q753.5,229 757,229" stroke="#b4b4e4" stroke-width="1.3" fill="none" />
<path d="M746.8,207.5 L751.5,213.1 L747.8,214.7Z" fill="#3232c8"/>
<path d="M852,212 L850.4,226 Q849.5,229 845,229" stroke="#b4b4e4" stroke-width="1.3" fill="none" />
<path d="M854.8,207.5 L854.4,214.8 L850.6,213.4Z" fill="#3232c8"/>
<path d="M862,153.6 L874,153.6 L874,287 Q874,295 864,297" stroke="#b4b4e4" stroke-width="1.5" fill="none" />
<path d="M855.2,153.6 L862.2,151.6 L862.2,155.6Z" fill="#3232c8"/>
<path d="M862,207 L868,207 L868,253 Q868,261 858,263" stroke="#b4b4e4" stroke-width="1.5" fill="none" />
<path d="M855.2,207.0 L862.2,205.0 L862.2,209.0Z" fill="#3232c8"/>
<text x="757.6" y="231.6" class="ss" font-size="13" style="fill:#3232c8;stroke:#3232c8;stroke-width:0.3" text-anchor="start" >Seg99</text>
<text x="806.4" y="231.6" class="ss" font-size="13" style="fill:#3232c8;stroke:#3232c8;stroke-width:0.3" text-anchor="start" >Seg28</text>
<text x="744.8" y="266.0" class="ss" font-size="13" style="fill:#3232c8;stroke:#3232c8;stroke-width:0.3" text-anchor="start" >Com 32</text>
<text x="816.8" y="268.0" class="ss" font-size="13" style="fill:#3232c8;stroke:#3232c8;stroke-width:0.3" text-anchor="start" >Com 0</text>
<text x="739.2" y="298.0" class="ss" font-size="13" style="fill:#3232c8;stroke:#3232c8;stroke-width:0.3" text-anchor="start" >Com 51</text>
<text x="816.0" y="299.6" class="ss" font-size="13" style="fill:#3232c8;stroke:#3232c8;stroke-width:0.3" text-anchor="start" >Com 19</text>
<rect x="666.4" y="388.2" width="39.0" height="35.7" rx="0" stroke="#8c8c8c" stroke-width="1.0" fill="none" />
<rect x="712.0" y="388.2" width="39.0" height="35.7" rx="0" stroke="#8c8c8c" stroke-width="1.0" fill="none" />
<rect x="666.4" y="430.3" width="39.0" height="35.7" rx="0" stroke="#8c8c8c" stroke-width="1.0" fill="none" />
<rect x="712.0" y="430.3" width="39.0" height="35.7" rx="0" stroke="#8c8c8c" stroke-width="1.0" fill="none" />
<line x1="666.4" y1="360.0" x2="666.4" y2="385.0" stroke="#9c9c9c" stroke-width="1.3" />
<line x1="712.0" y1="360.0" x2="712.0" y2="385.0" stroke="#9c9c9c" stroke-width="1.3" />
<line x1="666.4" y1="363.4" x2="712.0" y2="363.4" stroke="#9c9c9c" stroke-width="1.3" />
<path d="M666.4,363.4 L673.4,361.9 L673.4,364.9Z" fill="#1e1e1e"/>
<path d="M712.0,363.4 L705.0,364.9 L705.0,361.9Z" fill="#1e1e1e"/>
<text x="689.7" y="362.5" class="ss" font-size="11" style="fill:#2a2a2a;stroke:#2a2a2a;stroke-width:0.3" text-anchor="middle" >0.128</text>
<line x1="705.4" y1="370.0" x2="705.4" y2="385.0" stroke="#9c9c9c" stroke-width="1.3" />
<line x1="692.0" y1="373.8" x2="748.6" y2="373.8" stroke="#9c9c9c" stroke-width="1.3" />
<path d="M705.4,373.8 L698.4,375.3 L698.4,372.3Z" fill="#1e1e1e"/>
<path d="M712.0,373.8 L719.0,372.3 L719.0,375.3Z" fill="#1e1e1e"/>
<text x="736.4" y="373.3" class="ss" font-size="11" style="fill:#2a2a2a;stroke:#2a2a2a;stroke-width:0.3" text-anchor="middle" >0.02</text>
<line x1="638.9" y1="388.2" x2="662.0" y2="388.2" stroke="#9c9c9c" stroke-width="1.3" />
<line x1="638.9" y1="430.3" x2="662.0" y2="430.3" stroke="#9c9c9c" stroke-width="1.3" />
<line x1="642.0" y1="388.2" x2="642.0" y2="430.3" stroke="#9c9c9c" stroke-width="1.3" />
<path d="M642.0,388.2 L643.5,395.2 L640.5,395.2Z" fill="#1e1e1e"/>
<path d="M642.0,430.3 L640.5,423.3 L643.5,423.3Z" fill="#1e1e1e"/>
<text x="643.8" y="399.4" class="ss" font-size="11" style="fill:#2a2a2a;stroke:#2a2a2a;stroke-width:0.3" text-anchor="start" transform="rotate(90 643.8 399.4)" >0.13</text>
<line x1="655.0" y1="424.0" x2="662.0" y2="424.0" stroke="#9c9c9c" stroke-width="1.3" />
<line x1="658.7" y1="412.0" x2="658.7" y2="440.7" stroke="#9c9c9c" stroke-width="1.3" />
<path d="M658.7,424.0 L657.2,417.0 L660.2,417.0Z" fill="#1e1e1e"/>
<path d="M658.7,430.3 L660.2,437.3 L657.2,437.3Z" fill="#1e1e1e"/>
<text x="659.5" y="442.5" class="ss" font-size="11" style="fill:#2a2a2a;stroke:#2a2a2a;stroke-width:0.3" text-anchor="start" transform="rotate(90 659.5 442.5)" >0.02</text>
<line x1="755.0" y1="430.3" x2="772.0" y2="430.3" stroke="#9c9c9c" stroke-width="1.3" />
<line x1="755.0" y1="465.9" x2="772.0" y2="465.9" stroke="#9c9c9c" stroke-width="1.3" />
<line x1="769.0" y1="430.3" x2="769.0" y2="465.9" stroke="#9c9c9c" stroke-width="1.3" />
<path d="M769.0,430.3 L770.5,437.3 L767.5,437.3Z" fill="#1e1e1e"/>
<path d="M769.0,465.9 L767.5,458.9 L770.5,458.9Z" fill="#1e1e1e"/>
<text x="769.8" y="405.6" class="ss" font-size="11" style="fill:#2a2a2a;stroke:#2a2a2a;stroke-width:0.3" text-anchor="start" transform="rotate(90 769.8 405.6)" >0.11</text>
<line x1="712.0" y1="470.0" x2="712.0" y2="488.0" stroke="#9c9c9c" stroke-width="1.3" />
<line x1="751.0" y1="470.0" x2="751.0" y2="488.0" stroke="#9c9c9c" stroke-width="1.3" />
<line x1="712.0" y1="484.8" x2="751.0" y2="484.8" stroke="#9c9c9c" stroke-width="1.3" />
<path d="M712.0,484.8 L719.0,483.3 L719.0,486.3Z" fill="#1e1e1e"/>
<path d="M751.0,484.8 L744.0,486.3 L744.0,483.3Z" fill="#1e1e1e"/>
<text x="731.5" y="483.0" class="ss" font-size="11" style="fill:#2a2a2a;stroke:#2a2a2a;stroke-width:0.3" text-anchor="middle" >0.108</text>
<text x="710.4" y="506.4" class="sf" font-size="17" style="fill:#2a2a2a;stroke:#2a2a2a;stroke-width:0.3" text-anchor="middle" >Scale 30:1</text>
</g>
<path d="M33,949.5 h2.5 v2 h-2.5z M33,953.5 h2.5 v2.5 h-2.5z M33,958 h2.5 v2 h-2.5z" fill="#1a1aa0"/>
</svg>
</body></html>
